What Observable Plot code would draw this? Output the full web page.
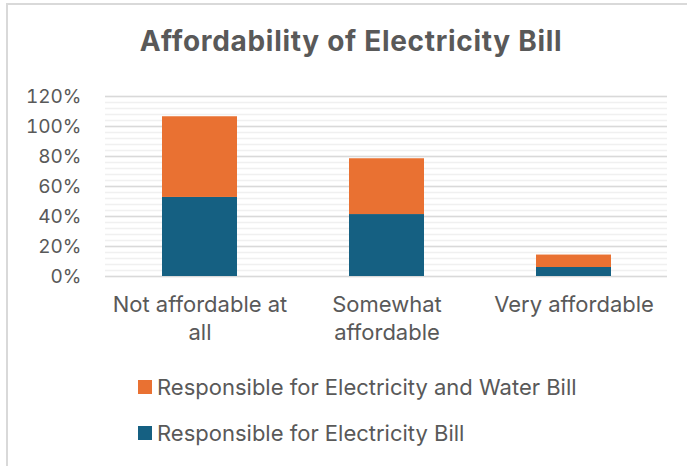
<!DOCTYPE html>
<html>
<head>
<meta charset="utf-8">
<script src="https://cdn.jsdelivr.net/npm/d3@7"></script>
<script src="https://cdn.jsdelivr.net/npm/@observablehq/plot@0.6"></script>
<style>
  html, body { margin: 0; padding: 0; background: #fff; }
  body { width: 687px; height: 466px; overflow: hidden; position: relative; font-family: Inter, "Liberation Sans", sans-serif; color: #595959; }
  #frame { position: absolute; left: 6px; top: 3px; width: 700px; height: 480px; border-left: 2px solid #d9d9d9; border-top: 2px solid #d9d9d9; box-sizing: border-box; }
  #title { position: absolute; left: 0; width: 702px; top: 24px; text-align: center; font-size: 28px; font-weight: 700; color: #595959; letter-spacing: 0.7px; }
  #chart { position: absolute; left: 0; top: 0; }
  #legend { position: absolute; left: 138px; top: 372px; font-size: 22px; color: #595959; }
  .item { display: flex; align-items: center; height: 30px; margin-bottom: 16px; }
  .sw { width: 14px; height: 14px; margin-right: 5px; }
</style>
</head>
<body>
<div id="frame"></div>
<div id="chart"></div>
<div id="title">Affordability of Electricity Bill</div>
<div id="legend"></div>
<script>
const categories = ["Not affordable at all", "Somewhat affordable", "Very affordable"];
const categoryLabels = ["Not affordable at\nall", "Somewhat\naffordable", "Very affordable"];
const seriesNames = ["Responsible for Electricity Bill", "Responsible for Electricity and Water Bill"];
const electricityBill = [52.7, 41.3, 6.0];
const electricityAndWaterBill = [53.8, 37.2, 8.3];
const seriesColors = ["#156082", "#E97132"];
const yTicks = [0, 20, 40, 60, 80, 100, 120];
const yMinorTicks = d3.range(0, 121, 4);

const rows = [];
categories.forEach((c, i) => {
  rows.push({category: c, series: seriesNames[0], value: electricityBill[i]});
  rows.push({category: c, series: seriesNames[1], value: electricityAndWaterBill[i]});
});
const labelOf = new Map(categories.map((c, i) => [c, categoryLabels[i]]));

const chart = Plot.plot({
  width: 687,
  height: 360,
  marginLeft: 105,
  marginRight: 20,
  marginTop: 96,
  marginBottom: 84,
  style: {fontFamily: "Inter, 'Liberation Sans', sans-serif", color: "#595959", background: "transparent", overflow: "visible"},
  x: {domain: categories, paddingInner: 0.6, paddingOuter: 0.3, label: null},
  y: {domain: [0, 120], label: null},
  color: {domain: seriesNames, range: seriesColors},
  marks: [
    Plot.ruleY(yMinorTicks, {stroke: "#f0f0f0", strokeWidth: 1.3}),
    Plot.ruleY(yTicks, {stroke: "#d9d9d9", strokeWidth: 1.5}),
    Plot.barY(rows, Plot.stackY({x: "category", y: "value", fill: "series", order: seriesNames})),
    Plot.axisY(yTicks, {tickSize: 0, tickPadding: 24, fontSize: 19, fill: "#595959", tickFormat: d => d + "%"}),
    Plot.axisX({tickSize: 0, tickPadding: 15, fontSize: 22, fill: "#595959", lineHeight: 1.3, tickFormat: d => labelOf.get(d)})
  ]
});
document.getElementById("chart").appendChild(chart);

const legend = document.getElementById("legend");
[1, 0].forEach(i => {
  const item = document.createElement("div");
  item.className = "item";
  const sw = document.createElement("div");
  sw.className = "sw";
  sw.style.background = seriesColors[i];
  const t = document.createElement("span");
  t.textContent = seriesNames[i];
  item.appendChild(sw);
  item.appendChild(t);
  legend.appendChild(item);
});
</script>
</body>
</html>
